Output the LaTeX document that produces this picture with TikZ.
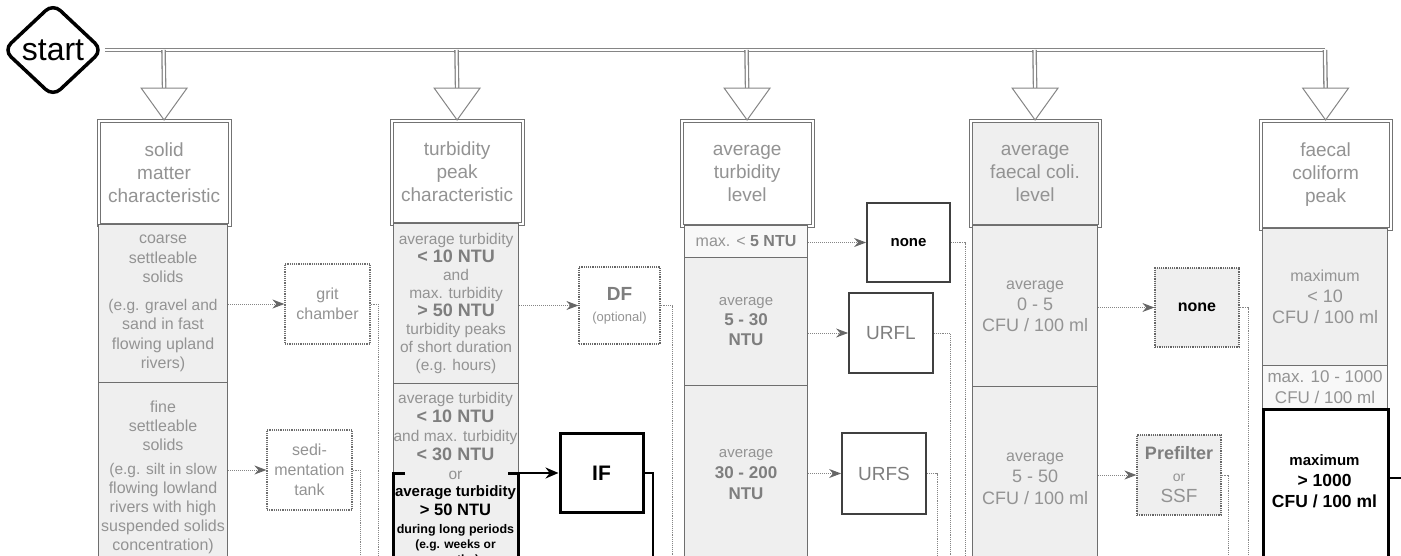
\documentclass[tikz,border=0pt]{standalone}
\usepackage{fontspec}
\setmainfont{Liberation Sans}
\usetikzlibrary{positioning,arrows.meta,shapes.geometric,calc}
\definecolor{lgray}{HTML}{858585}
\definecolor{bgray}{HTML}{6E6E6E}
\definecolor{tgray}{HTML}{939393}
\definecolor{tdark}{HTML}{7E7E7E}
\definecolor{lfill}{HTML}{EFEFEF}
\definecolor{wfill}{HTML}{F8F8F8}
\newcommand{\fsz}[2]{\fontsize{#1}{#2}\selectfont}

\begin{document}
\begin{tikzpicture}[x=1pt, y=-1pt,
  startnode/.style={diamond, draw=black, line width=3.5pt, rounded corners=10pt,
    minimum width=100pt, minimum height=94pt, inner sep=0pt, font=\fsz{32}{32}},
  trunk/.style={draw=lgray, double=white, double distance=2pt, line width=1.3pt},
  tri/.style={draw=lgray, line width=1pt, fill=white},
  hdr/.style={draw=black!55, double=white, double distance=1.8pt, line width=1.2pt,
    fill=white, text=tgray, align=center, font=\fsz{19}{23}, anchor=north west, inner sep=0pt},
  sect/.style={draw=bgray, line width=1.1pt, fill=lfill, text=tgray, align=center,
    font=\fsz{16}{19}, anchor=north west, inner sep=0pt},
  outbox/.style={draw=bgray, densely dotted, line width=1.2pt, fill=white, text=tgray,
    align=center, font=\fsz{16}{20}, inner sep=0pt, minimum width=84pt, minimum height=80pt},
  darkbox/.style={outbox, solid, draw=black!75, line width=1.8pt},
  ifbox/.style={draw=black, line width=3pt, fill=white, minimum width=83pt,
    minimum height=79pt, font=\fsz{21}{21}\bfseries},
  flow/.style={draw=lgray, densely dotted, line width=1pt, -{Stealth[length=12pt, width=9pt, color=black!60]}},
  outln/.style={draw=lgray, densely dotted, line width=0.9pt},
  blkline/.style={draw=black, line width=1.5pt},
  blkarr/.style={draw=black, line width=2pt, -{Stealth[length=13pt, width=11pt]}}]
\useasboundingbox (0,0) rectangle (1401,555);

% start and trunk line
\node[startnode] (start) at (53,50) {start};
\foreach \n/\x in {1/163.5,2/456.5,3/746.5,4/1034.5,5/1325}
  \coordinate (j\n) at (\x,50);

% column heads
\node[hdr, minimum width=131pt, minimum height=104pt] (h1) at (98,120) {solid\\matter\\characteristic};
\node[hdr, minimum width=131pt, minimum height=103pt] (h2) at (391,120) {turbidity\\peak\\characteristic};
\node[hdr, minimum width=131pt, minimum height=105pt] (h3) at (681,120) {average\\turbidity\\level};
\node[hdr, fill=lfill, minimum width=129pt, minimum height=105pt] (h4) at (970,120) {average\\faecal coli.\\level};
\node[hdr, minimum width=130pt, minimum height=108pt] (h5) at (1260,120) {faecal\\coliform\\peak};

\draw[trunk] (start.east) -- (j5);
\foreach \n in {1,...,5} {
  \draw[trunk] (j\n) -- ($(h\n.north)+(0,-32)$);
  \draw[tri] ($(h\n.north)+(-23,-32)$) -- ($(h\n.north)+(23,-32)$) -- (h\n.north) -- cycle;
}

% solid matter
\node[sect, font=\fsz{16}{19.5}, minimum width=129pt, minimum height=158pt] (s11) at (98,224)
  {coarse\\settleable\\solids\\[8pt]\fsz{15.5}{19.5}(e.g. gravel and\\sand in fast\\flowing upland\\rivers)};
\node[sect, minimum width=129pt, minimum height=190pt] (s12) at (98,382)
  {fine\\settleable\\solids\\[5pt]\fsz{15.5}{19}(e.g. silt in slow\\flowing lowland\\rivers with high\\suspended solids\\concentration)};

% turbidity peak
\node[sect, font=\fsz{15.5}{18}, minimum width=125pt, minimum height=160pt] (s21) at (393,223)
  {average turbidity\\{\bfseries\color{tdark}\fsz{18}{18}< 10 NTU}\\and\\max. turbidity\\{\bfseries\color{tdark}\fsz{18}{18}> 50 NTU}\\turbidity peaks\\of short duration\\(e.g. hours)};
\node[sect, minimum width=125pt, minimum height=220pt] (s22) at (393,383) {};
\node[text=tgray, align=center, font=\fsz{15.5}{18.8}] (t22) at (455.5,436)
  {average turbidity\\{\bfseries\color{tdark}\fsz{18}{18.8}< 10 NTU}\\and max. turbidity\\{\bfseries\color{tdark}\fsz{18}{18.8}< 30 NTU}\\or};
\node[minimum width=125pt, minimum height=130pt, anchor=north west, inner sep=0pt] (s22b) at (393,473) {};
\draw[blkline, line width=3pt] ([xshift=12pt]s22b.north west) -- (s22b.north west) -- (s22b.south west);
\draw[blkline, line width=3pt] ([xshift=-10pt]s22b.north east) -- (s22b.north east) -- (s22b.south east);
\node[align=center, font=\bfseries\fsz{12}{15}] (t22b) at (455.5,526)
  {\fsz{15}{15}average turbidity\\[4pt]\fsz{16.5}{15}> 50 NTU\\[3pt]\fsz{12.5}{15}during long periods\\\fsz{12}{15}(e.g. weeks or\\months)};

% average turbidity
\node[sect, fill=wfill, minimum width=123pt, minimum height=32pt] (s31) at (684,225)
  {max. < {\bfseries\color{tdark}5 NTU}};
\node[sect, font=\fsz{17}{20}, minimum width=123pt, minimum height=128pt] (s32) at (684,257)
  {\fsz{15}{20}average\\{\bfseries\color{tdark}5 - 30}\\{\bfseries\color{tdark}NTU}};
\node[sect, font=\fsz{17}{21}, minimum width=123pt, minimum height=178pt] (s33) at (684,385)
  {\fsz{15}{21}average\\{\bfseries\color{tdark}30 - 200}\\{\bfseries\color{tdark}NTU}};

% average faecal coli
\node[sect, font=\fsz{18}{21}, minimum width=125pt, minimum height=161pt] (s41) at (972,225)
  {\fsz{16}{21}average\\\fsz{18}{21}0 - 5\\CFU / 100 ml};
\node[sect, font=\fsz{18}{21.5}, minimum width=125pt, minimum height=184pt] (s42) at (972,386)
  {\fsz{16}{21.5}average\\\fsz{18}{21.5}5 - 50\\CFU / 100 ml};

% faecal coliform peak
\node[sect, font=\fsz{18}{21}, minimum width=125pt, minimum height=137pt] (s51) at (1262,228)
  {\fsz{16}{21}maximum\\\fsz{18}{21}< 10\\CFU / 100 ml};
\node[sect, fill=wfill, font=\fsz{17}{21}, minimum width=125pt, minimum height=43pt] (s52) at (1262,365)
  {max. 10 - 1000\\CFU / 100 ml};
\node[draw=black, line width=2.5pt, fill=white, minimum width=125pt, minimum height=200pt,
  anchor=north west, inner sep=0pt] (s53) at (1262,408) {};
\node[align=center, font=\bfseries\fsz{17.5}{21}] (t53) at (1324.5,481)
  {\fsz{15}{21}maximum\\\fsz{17.5}{21}> 1000\\CFU / 100 ml};

% treatment steps
\node[outbox, minimum width=85pt] (grit) at (327.5,304) {grit\\chamber};
\node[outbox, minimum width=85pt] (sed) at (309.5,470) {sedi-\\mentation\\tank};
\node[outbox, draw=black!60, font=\fsz{13}{21}, minimum width=81pt, minimum height=77pt] (df) at (619.5,305.5)
  {{\bfseries\color{tdark}\fsz{19}{21}DF}\\\fsz{13}{21}(optional)};
\node[ifbox] (if) at (601.5,473) {IF};
\node[darkbox, font=\fsz{15}{18}\bfseries, text=black, minimum width=83pt, minimum height=79pt] (none3) at (908.5,242.5) {none};
\node[darkbox, font=\fsz{19}{22}, text=tdark] (urfl) at (891,333) {URFL};
\node[darkbox, font=\fsz{19}{22}, text=tdark, minimum height=81pt] (urfs) at (884,473.5) {URFS};
\node[outbox, draw=black!60, fill=lfill, font=\fsz{16}{18}\bfseries, text=black, minimum height=79pt] (none4) at (1197,307.5) {none};
\node[outbox, draw=black!60, fill=lfill, font=\fsz{16}{21.5}] (pre) at (1179,475)
  {{\bfseries\color{tdark}\fsz{18}{21.5}Prefilter}\\\fsz{14}{21.5}or\\\fsz{19}{21.5}SSF};

% connectors
\draw[flow] (s11.east |- grit.west) -- (grit.west);
\draw[flow] (s12.east |- sed.west) -- (sed.west);
\draw[flow] (s21.east |- df.west) -- (df.west);
\draw[blkarr] (s22b.north east) -- (if.west);
\draw[flow] (s31.east |- none3.west) -- (none3.west);
\draw[flow] (s32.east |- urfl.west) -- (urfl.west);
\draw[flow] (s33.east |- urfs.west) -- (urfs.west);
\draw[flow] (s41.east |- none4.west) -- (none4.west);
\draw[flow] (s42.east |- pre.west) -- (pre.west);

% lines leaving the steps
\foreach \b/\x in {grit/378, sed/360, df/672, none3/965, urfl/950, urfs/937, none4/1248, pre/1228} {
  \coordinate (\b-out) at (\x,600);
  \draw[outln] (\b.east) -| (\b-out);
}
\coordinate (if-out) at (653,600);
\draw[blkline] (if.east) -| (if-out);
\coordinate (s53-out) at (1405,478);
\draw[blkline] (s53.east |- s53-out) -- (s53-out);
\end{tikzpicture}
\end{document}
